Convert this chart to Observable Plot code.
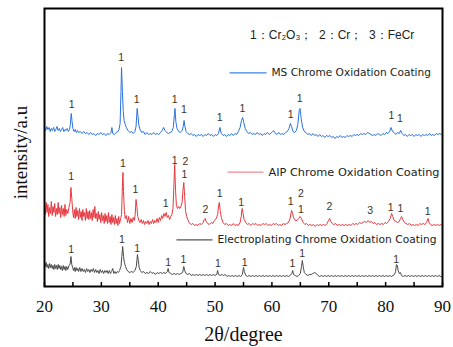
<!DOCTYPE html>
<html><head><meta charset="utf-8">
<script src="https://cdn.jsdelivr.net/npm/d3@7"></script>
<script src="https://cdn.jsdelivr.net/npm/@observablehq/plot@0.6"></script>
<style>body{margin:0;background:#fff}</style>
</head><body><div id="chart"></div>
<script>
// Intensity values in arbitrary units (stacked patterns)
const msPattern = [[20,159],[20.2,156],[20.4,160],[20.6,157],[20.8,159],[21,155],[21.2,158],[21.4,156],[21.6,159],[21.8,155],[22,157],[22.2,160],[22.4,156],[22.6,158],[22.8,155],[23,157],[23.2,159],[23.4,155],[23.6,157],[23.8,156],[24,158],[24.2,155],[24.4,157],[24.55,162],[24.7,173],[24.85,165],[25.0,158],[25.2,155],[25.4,157],[25.6,154],[25.8,156],[26,154],[26.3,155],[26.6,153],[26.9,155],[27.2,153],[27.5,154],[27.8,152],[28.1,154],[28.4,152],[28.7,153],[29,151],[29.3,153],[29.6,152],[29.9,154],[30.2,152],[30.5,153],[30.8,151],[31.1,153],[31.4,152],[31.7,154],[31.85,159],[32,153],[32.3,152],[32.6,154],[32.9,155],[33.1,157],[33.3,163],[33.45,195],[33.55,219],[33.7,195],[33.85,175],[34.0,166],[34.2,162],[34.4,159],[34.7,156],[35,154],[35.3,155],[35.6,153],[35.9,155],[36.1,160],[36.3,178],[36.45,170],[36.6,161],[36.8,157],[37.1,154],[37.4,155],[37.7,152],[38,154],[38.3,152],[38.6,153],[38.9,152],[39.2,154],[39.5,152],[39.8,153],[40.1,152],[40.4,154],[40.7,156],[40.95,159],[41.2,156],[41.5,154],[41.8,153],[42.1,154],[42.4,155],[42.65,159],[42.85,172],[42.95,178],[43.1,165],[43.3,158],[43.6,155],[43.9,154],[44.2,156],[44.4,160],[44.55,166],[44.7,160],[44.9,155],[45.2,153],[45.5,152],[45.8,153],[46.1,151],[46.4,152],[46.7,150],[47,152],[47.3,151],[47.6,152],[47.9,150],[48.2,152],[48.5,151],[48.8,153],[49.1,151],[49.4,152],[49.7,150],[50,152],[50.3,151],[50.6,153],[50.85,159],[51.1,153],[51.4,151],[51.7,152],[52,150],[52.3,152],[52.6,151],[52.9,153],[53.2,151],[53.5,153],[53.8,152],[54.1,155],[54.4,159],[54.65,166],[54.85,169],[55.05,164],[55.3,158],[55.6,155],[55.9,153],[56.2,154],[56.5,152],[56.8,153],[57.1,152],[57.4,154],[57.7,152],[58,153],[58.3,151],[58.6,153],[58.9,152],[59.2,154],[59.5,152],[59.8,153],[60.1,155],[60.3,156],[60.6,153],[60.9,152],[61.2,154],[61.5,152],[61.8,153],[62.1,152],[62.4,154],[62.7,155],[63.0,158],[63.25,163],[63.45,160],[63.7,155],[64.0,154],[64.3,156],[64.55,162],[64.8,176],[64.95,178],[65.15,168],[65.4,159],[65.7,155],[66,154],[66.3,152],[66.6,153],[66.9,151],[67.2,153],[67.5,151],[67.8,152],[68.1,150],[68.4,152],[68.7,150],[69,151],[69.3,149],[69.6,151],[69.9,150],[70.2,151],[70.5,149],[70.8,150],[71.1,148],[71.4,150],[71.7,149],[72,151],[72.3,149],[72.6,150],[72.9,149],[73.2,151],[73.5,150],[73.8,151],[74.1,150],[74.4,152],[74.7,151],[75,152],[75.3,151],[75.6,153],[75.9,152],[76.2,153],[76.5,152],[76.8,154],[77.1,153],[77.4,152],[77.7,151],[78,152],[78.3,151],[78.6,153],[78.9,152],[79.2,151],[79.5,153],[79.8,152],[80.1,154],[80.4,153],[80.7,155],[80.95,159],[81.2,155],[81.5,154],[81.8,152],[82.1,154],[82.4,153],[82.65,156],[82.9,153],[83.2,151],[83.5,152],[83.8,150],[84.1,152],[84.4,151],[84.7,152],[85,150],[85.3,152],[85.6,151],[85.9,152],[86.2,150],[86.5,152],[86.8,151],[87.1,152],[87.4,151],[87.7,153],[88,151],[88.3,152],[88.6,151],[88.9,153],[89.2,152],[89.5,153],[89.8,152],[90,153]];

const aipPattern = [[20,80],[20.15,72],[20.3,84],[20.45,74],[20.6,82],[20.75,70],[20.9,79],[21.05,73],[21.2,85],[21.35,71],[21.5,80],[21.65,74],[21.8,83],[21.95,70],[22.1,78],[22.25,72],[22.4,84],[22.55,73],[22.7,79],[22.85,69],[23,81],[23.15,72],[23.3,78],[23.45,70],[23.6,82],[23.75,71],[23.9,77],[24.1,73],[24.3,79],[24.5,84],[24.65,99],[24.8,88],[24.95,76],[25.1,69],[25.25,77],[25.4,68],[25.55,79],[25.7,70],[25.85,76],[26,67],[26.15,78],[26.3,69],[26.45,75],[26.6,66],[26.75,77],[26.9,70],[27.05,74],[27.2,66],[27.35,78],[27.5,68],[27.65,75],[27.8,67],[27.95,76],[28.1,68],[28.25,74],[28.4,66],[28.55,77],[28.7,69],[28.85,80],[29,68],[29.15,73],[29.3,65],[29.45,75],[29.6,67],[29.75,72],[29.9,64],[30.05,74],[30.2,66],[30.35,71],[30.5,63],[30.65,73],[30.8,65],[30.95,71],[31.1,63],[31.25,74],[31.4,64],[31.55,70],[31.7,62],[31.85,72],[32,64],[32.15,69],[32.3,62],[32.45,71],[32.6,63],[32.75,68],[32.9,61],[33.05,70],[33.2,63],[33.4,68],[33.55,72],[33.7,100],[33.8,114],[33.9,95],[34.05,76],[34.2,68],[34.4,71],[34.6,64],[34.8,70],[35,63],[35.2,68],[35.4,64],[35.6,69],[35.8,66],[35.95,72],[36.1,87],[36.25,80],[36.4,70],[36.6,66],[36.8,64],[37,67],[37.2,63],[37.4,66],[37.6,62],[37.8,65],[38,63],[38.2,66],[38.4,62],[38.6,65],[38.8,63],[39,67],[39.2,63],[39.4,66],[39.6,64],[39.8,68],[40,64],[40.2,69],[40.4,66],[40.6,71],[40.8,68],[41,73],[41.2,70],[41.4,74],[41.6,69],[41.8,71],[42,67],[42.2,70],[42.4,72],[42.6,78],[42.75,100],[42.9,122],[43.05,96],[43.2,81],[43.4,78],[43.6,80],[43.8,78],[44,80],[44.2,84],[44.35,96],[44.5,104],[44.65,90],[44.8,76],[45,70],[45.2,67],[45.4,64],[45.6,63],[45.8,62],[46.1,63],[46.4,61],[46.7,62],[47,61],[47.3,63],[47.6,62],[47.9,64],[48.1,67],[48.25,68],[48.45,65],[48.7,63],[49,62],[49.3,64],[49.6,63],[49.9,66],[50.2,68],[50.45,72],[50.65,82],[50.75,84],[50.9,76],[51.1,69],[51.4,64],[51.7,62],[52,63],[52.3,61],[52.6,62],[52.9,61],[53.2,63],[53.5,61],[53.8,62],[54.1,61],[54.4,64],[54.6,70],[54.75,78],[54.9,74],[55.1,67],[55.4,64],[55.7,62],[56,63],[56.3,61],[56.6,63],[56.9,62],[57.2,63],[57.5,61],[57.8,62],[58.1,61],[58.4,63],[58.7,62],[59,63],[59.3,61],[59.6,62],[59.9,61],[60.2,63],[60.5,62],[60.8,63],[61.1,61],[61.4,62],[61.7,61],[62,63],[62.3,62],[62.6,63],[62.9,64],[63.2,68],[63.45,76],[63.6,74],[63.8,69],[64.1,66],[64.4,66],[64.7,68],[64.95,70],[65.2,68],[65.5,64],[65.8,62],[66.1,63],[66.4,61],[66.7,62],[67,61],[67.3,62],[67.6,60],[67.9,62],[68.2,61],[68.5,62],[68.8,61],[69.1,62],[69.4,61],[69.7,63],[69.95,66],[70.15,68],[70.35,65],[70.6,63],[70.9,62],[71.2,63],[71.5,61],[71.8,62],[72.1,61],[72.4,62],[72.7,61],[73,62],[73.3,61],[73.6,62],[73.9,61],[74.2,63],[74.5,62],[74.8,63],[75.1,62],[75.4,64],[75.7,63],[76,64],[76.3,65],[76.6,64],[76.9,66],[77.2,64],[77.5,65],[77.8,63],[78.1,64],[78.4,62],[78.7,63],[79,62],[79.3,63],[79.6,62],[79.9,64],[80.2,63],[80.5,65],[80.8,68],[81.05,73],[81.25,70],[81.5,66],[81.8,65],[82.1,64],[82.4,65],[82.6,68],[82.8,70],[83.0,67],[83.3,64],[83.6,63],[83.9,62],[84.2,63],[84.5,61],[84.8,62],[85.1,61],[85.4,62],[85.7,61],[86,63],[86.3,62],[86.6,63],[86.9,62],[87.2,64],[87.45,68],[87.65,64],[87.9,62],[88.2,61],[88.5,62],[88.8,61],[89.1,62],[89.4,61],[89.7,62],[90,61]];

const epPattern = [[20,23],[20.15,20],[20.3,24],[20.45,19],[20.6,22],[20.75,18],[20.9,23],[21.05,19],[21.2,22],[21.35,18],[21.5,21],[21.65,17],[21.8,22],[21.95,18],[22.1,21],[22.25,17],[22.4,22],[22.55,18],[22.7,21],[22.85,17],[23,20],[23.15,16],[23.3,21],[23.45,17],[23.6,20],[23.75,16],[23.9,20],[24.1,17],[24.3,21],[24.5,22],[24.65,30],[24.8,22],[24.95,19],[25.1,16],[25.25,19],[25.4,15],[25.55,19],[25.7,16],[25.85,18],[26,15],[26.2,19],[26.4,15],[26.6,18],[26.8,15],[27,17],[27.2,14],[27.4,18],[27.6,15],[27.8,17],[28,14],[28.2,17],[28.4,15],[28.6,18],[28.8,14],[29,17],[29.2,14],[29.4,16],[29.6,13],[29.8,17],[30,14],[30.2,16],[30.4,13],[30.6,16],[30.8,14],[31,16],[31.2,13],[31.4,16],[31.6,13],[31.8,15],[32,18],[32.2,13],[32.4,15],[32.6,13],[32.8,15],[33,14],[33.2,16],[33.45,20],[33.6,30],[33.75,40],[33.9,30],[34.05,24],[34.25,20],[34.45,17],[34.7,15],[35,14],[35.3,15],[35.6,14],[35.9,16],[36.15,20],[36.35,32],[36.5,26],[36.65,19],[36.85,16],[37.1,14],[37.4,15],[37.7,13],[38,14],[38.3,13],[38.6,15],[38.9,13],[39.2,14],[39.5,12],[39.8,14],[40.1,13],[40.4,14],[40.7,13],[41,14],[41.3,13],[41.6,15],[41.75,18],[41.9,14],[42.2,13],[42.5,12],[42.8,13],[43.1,12],[43.4,13],[43.7,12],[44,13],[44.3,14],[44.5,20],[44.65,16],[44.9,13],[45.2,12],[45.5,13],[45.8,11],[46.1,12],[46.4,11],[46.7,12],[47,11],[47.3,12],[47.6,11],[47.9,12],[48.2,11],[48.5,12],[48.8,11],[49.1,12],[49.4,11],[49.7,12],[50,11],[50.3,12],[50.45,16],[50.6,12],[50.9,11],[51.2,12],[51.5,11],[51.8,12],[52.1,10],[52.4,11],[52.7,10],[53,11],[53.3,10],[53.6,11],[53.9,10],[54.2,11],[54.5,10],[54.8,12],[55.0,19],[55.15,15],[55.4,11],[55.7,10],[56,11],[56.3,10],[56.6,11],[56.9,10],[57.2,11],[57.5,10],[57.8,11],[58.1,10],[58.4,11],[58.7,10],[59,11],[59.3,10],[59.6,11],[59.9,10],[60.2,11],[60.5,10],[60.8,11],[61.1,10],[61.4,11],[61.7,10],[62,11],[62.3,10],[62.6,11],[62.9,10],[63.2,11],[63.5,13],[63.65,16],[63.8,12],[64.1,11],[64.4,10],[64.7,11],[65.0,13],[65.2,20],[65.35,26],[65.5,20],[65.7,14],[66,12],[66.3,11],[66.6,12],[66.9,12],[67.2,13],[67.5,14],[67.8,13],[68.1,11],[68.4,10],[68.7,11],[69,10],[69.3,11],[69.6,10],[69.9,11],[70.2,10],[70.5,11],[70.8,10],[71.1,11],[71.4,10],[71.7,11],[72,10],[72.3,11],[72.6,10],[72.9,11],[73.2,10],[73.5,11],[73.8,10],[74.1,11],[74.4,10],[74.7,11],[75,10],[75.3,11],[75.6,10],[75.9,11],[76.2,10],[76.5,11],[76.8,10],[77.1,11],[77.4,10],[77.7,11],[78,10],[78.3,11],[78.6,10],[78.9,11],[79.2,10],[79.5,11],[79.8,10],[80.1,11],[80.4,10],[80.7,11],[81,10],[81.3,11],[81.55,12],[81.75,15],[81.9,22],[82.05,21],[82.2,16],[82.4,13],[82.6,14],[82.8,11],[83.1,10],[83.4,11],[83.7,10],[84,11],[84.3,10],[84.6,11],[84.9,10],[85.2,11],[85.5,10],[85.8,11],[86.1,10],[86.4,11],[86.7,10],[87,11],[87.3,10],[87.6,11],[87.9,10],[88.2,11],[88.5,10],[88.8,11],[89.1,10],[89.4,11],[89.7,10],[90,10]];

// Peak annotations: [2θ, height, phase label]
const msPeakLabels = [[24.8,182,"1"],[33.5,229,"1"],[36.2,187,"1"],[42.9,187,"1"],[44.5,177,"1"],[50.8,169,"1"],[54.8,178,"1"],[63.3,172,"1"],[64.9,188,"1"],[81.0,171,"1"],[82.5,168,"1"]];
const aipPeakLabels = [[24.7,110,"1"],[33.8,123,"1"],[36.0,97,"1"],[41.3,83,"1"],[42.9,126,"1"],[44.8,125,"2"],[44.6,112,"1"],[48.3,77,"2"],[50.8,93,"1"],[54.6,84,"1"],[63.3,85,"1"],[65.1,93,"2"],[65.1,77,"1"],[70.1,80,"2"],[77.3,76,"3"],[80.9,79,"1"],[82.6,78,"1"],[87.4,75,"1"]];
const epPeakLabels = [[24.7,37,"1"],[33.6,47,"1"],[36.3,38,"1"],[41.75,24,"1"],[44.45,27,"1"],[50.5,23,"1"],[55.2,24,"1"],[63.6,23,"1"],[65.3,33,"1"],[81.85,27,"1"]];

const seriesNames = ["MS Chrome Oxidation Coating","AIP Chrome Oxidation Coating","Electroplating Chrome Oxidation Coating"];
const seriesColors = ["#2a72dc","#e8383f","#4a4a4a"];
const legendSwatchColors = ["#3d82e4","#f28a90","#555555"];
// legend placement in data units: [x1, x2, y]
const legendRows = [[52.54,59.04,213.7],[52.18,58.52,114.3],[43.21,49.55,46.7]];
const legendFontSizes = [10.6, 11.3, 10.7];
const phaseKey = "1：Cr₂O₃；  2：Cr；  3：FeCr";
const xTicks = d3.range(20, 91, 5);
const xLabel = "2θ/degree";
const yLabel = "intensity/a.u";

const xy = {x: d => d[0], y: d => d[1]};
const lbl = (data) => Plot.text(data, {x: d => d[0], y: d => d[1], text: d => d[2], fontFamily: "Liberation Sans, Arial, sans-serif", fontSize: 10.5, fill: "#3b3326"});

const chart = Plot.plot({
  width: 453, height: 347,
  marginLeft: 44, marginRight: 11, marginTop: 8, marginBottom: 61,
  style: {fontFamily: "Liberation Serif, Times New Roman, serif", background: "#fff", overflow: "visible"},
  x: {domain: [20, 90]},
  y: {domain: [0, 278], axis: null},
  marks: [
    Plot.line(epPattern, {...xy, stroke: seriesColors[2], strokeWidth: 1}),
    Plot.line(aipPattern, {...xy, stroke: seriesColors[1], strokeWidth: 1}),
    Plot.line(msPattern, {...xy, stroke: seriesColors[0], strokeWidth: 1}),
    lbl(msPeakLabels), lbl(aipPeakLabels), lbl(epPeakLabels),
    Plot.link(legendRows, {x1: d => d[0], x2: d => d[1], y1: d => d[2], y2: d => d[2], stroke: (d, i) => legendSwatchColors[i], strokeWidth: 1.2}),
    Plot.text(legendRows, {x: d => d[1], y: d => d[2], text: (d, i) => seriesNames[i], dx: 5, textAnchor: "start", fontFamily: "DejaVu Sans, sans-serif", fontSize: (d, i) => legendFontSizes[i], fill: "#222"}),
    Plot.text([phaseKey], {x: 70.6, y: 251, text: d => d, fontFamily: "Liberation Sans, Arial, sans-serif", fontSize: 12, fill: "#222"}),
    Plot.ruleX(xTicks, {x: d => d, y1: 0, y2: 4, stroke: "#000", strokeWidth: 1.5}),
    Plot.axisX({ticks: xTicks, tickSize: 0, tickPadding: 13, tickFormat: d => d % 10 === 0 ? d : "", fontSize: 17, fill: "#111", label: null}),
    Plot.text([xLabel], {frameAnchor: "bottom", dy: 48, lineAnchor: "middle", text: d => d, fontSize: 20, fill: "#111"}),
    Plot.text([yLabel], {x: 20, y: 134, dx: -24, rotate: -90, lineAnchor: "middle", text: d => d, fontSize: 19, fill: "#111"}),
    Plot.frame({stroke: "#000", strokeWidth: 2})
  ]
});
document.getElementById("chart").appendChild(chart);
</script></body></html>
